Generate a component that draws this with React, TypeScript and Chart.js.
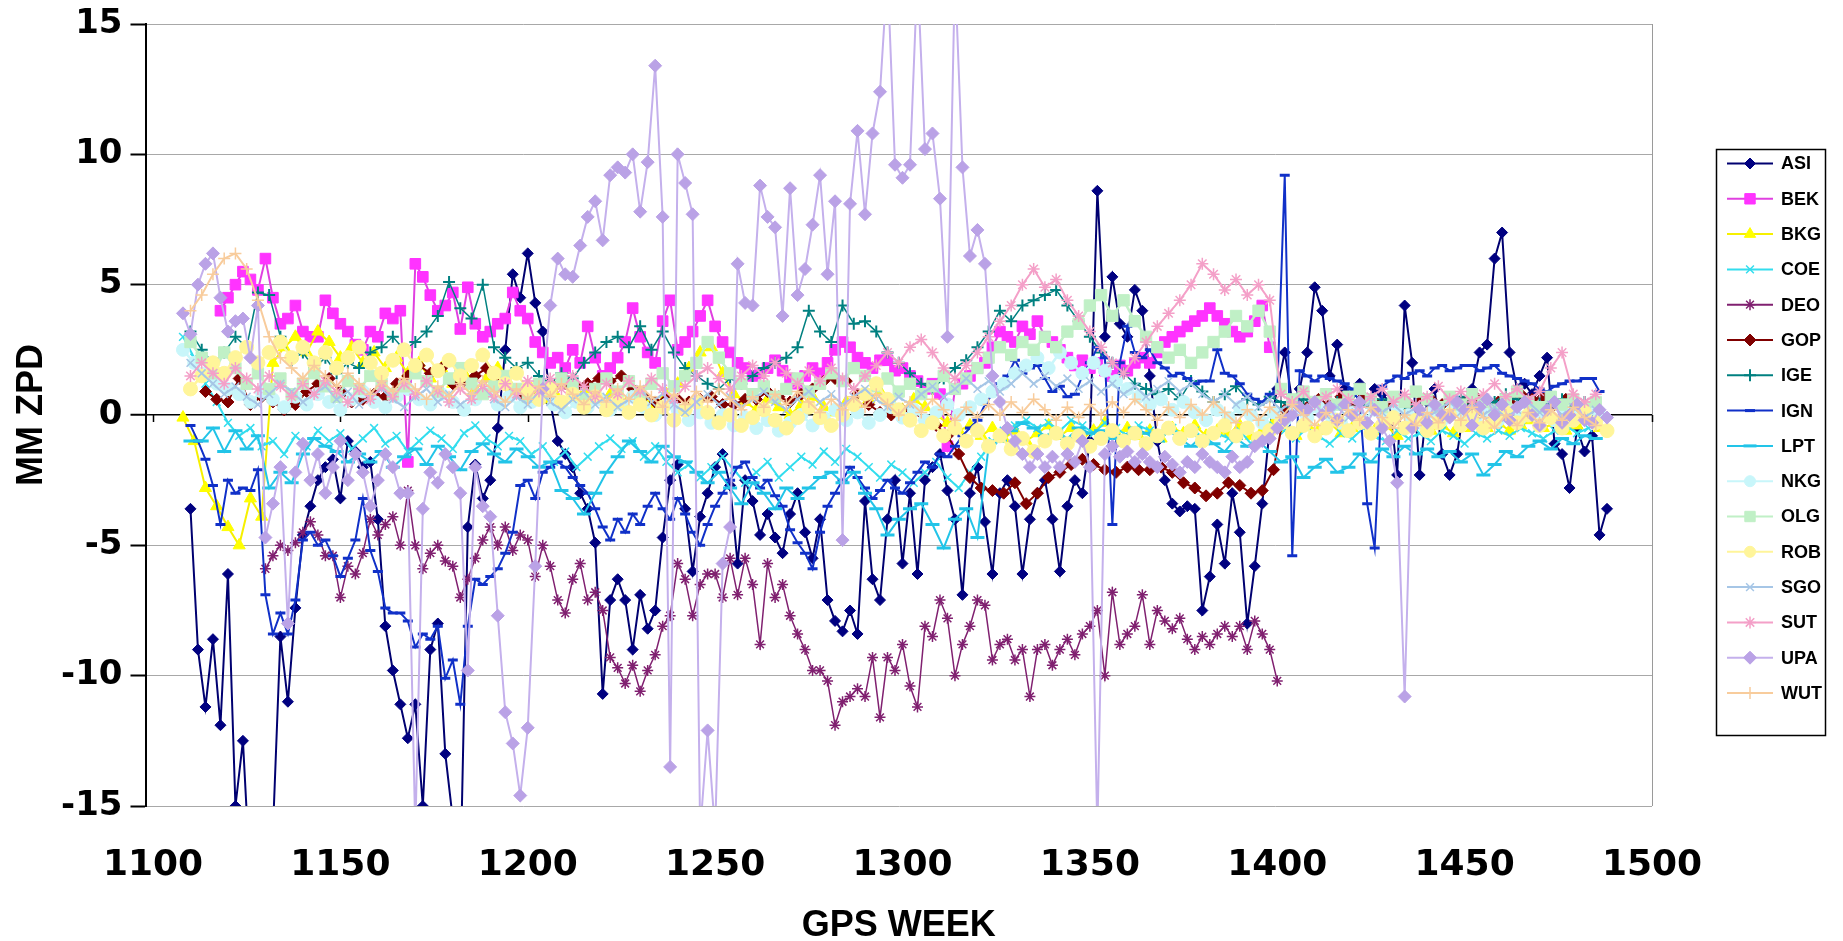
import React, { useEffect, useRef } from 'react';
import { Chart, registerables } from 'chart.js';

Chart.register(...registerables);

const W = 1843;
const H = 941;
const FONT = "'Liberation Sans', Arial, Helvetica, sans-serif";
const TICK_FONT = "'DejaVu Sans', 'Liberation Sans', Arial, sans-serif";

// Axis / tick definitions
const X_MIN = 1098;
const X_MAX = 1500;
const X_TICKS = [1100, 1150, 1200, 1250, 1300, 1350, 1400, 1450, 1500];
const Y_MIN = -15;
const Y_MAX = 15;
const Y_STEP = 5;
const X_TITLE = 'GPS WEEK';
const Y_TITLE = 'MM ZPD';

const SERIES_NAMES = ['ASI', 'BEK', 'BKG', 'COE', 'DEO', 'GOP', 'IGE', 'IGN', 'LPT', 'NKG', 'OLG', 'ROB', 'SGO', 'SUT', 'UPA', 'WUT'];

// ---- Series values (GPS week = start + step * index) ----
const ASI_START = 1110;
const ASI_STEP = 2;
const ASI = [
  -3.6, -9.0, -11.2, -8.6, -11.9, -6.1, -15.0, -12.5, -18, -18,
  -18, -16, -8.5, -11.0, -7.4, -4.6, -3.5, -2.5, -2.0, -1.7,
  -3.2, -1.0, -1.4, -2.0, -1.8, -4.0, -8.1, -9.8, -11.1, -12.4,
  -11.1, -15.0, -9.0, -8.0, -13.0, -15.5, -18, -4.3, -1.9, -3.2,
  -2.5, -0.5, 2.5, 5.4, 4.5, 6.2, 4.3, 3.2, 0.5, -1.0,
  -1.5, -2.0, -3.0, -3.6, -4.9, -10.7, -7.1, -6.3, -7.1, -9.0,
  -6.9, -8.2, -7.5, -4.7, -2.5, -1.9, -3.6, -6.0, -3.9, -3.0,
  -2.0, -1.5, -2.7, -5.7, -2.5, -3.3, -4.6, -3.8, -4.7, -5.3,
  -3.8, -3.0, -4.5, -5.5, -4.0, -7.1, -7.9, -8.3, -7.5, -8.4,
  -3.3, -6.3, -7.1, -4.0, -2.5, -5.7, -3.0, -6.1, -2.5, -2.0,
  -1.5, -2.9, -4.0, -6.9, -3.0, -2.0, -4.1, -6.1, -3.0, -2.5,
  -3.5, -6.1, -4.0, -3.0, -2.5, -4.0, -6.0, -3.5, -2.5, -3.0,
  -1.0, 8.6, 3.0, 5.3, 3.5, 3.0, 4.8, 4.0, 1.5, -1.0,
  -2.5, -3.4, -3.7, -3.5, -3.6, -7.5, -6.2, -4.2, -5.7, -3.0,
  -4.5, -8.0, -5.8, -3.4, -0.5, 1.0, 2.4, 0.5, 1.0, 2.4,
  4.9, 4.0, 1.5, 2.7, 1.0, 0.8, 1.2, 0.5, 1.0, 0.8,
  0.5, -2.3, 4.2, 2.0, -2.3, 0.5, 1.0, -1.5, -2.3, -1.5,
  0.5, 1.0, 2.4, 2.7, 6.0, 7.0, 2.4, 1.0, 1.2, 0.8,
  1.5, 2.2, -1.1, -1.5, -2.8, -0.5, -1.4, -0.8, -4.6, -3.6,
];

const BEK_START = 1118;
const BEK_STEP = 2;
const BEK = [
  4.0, 4.5, 5.0, 5.5, 5.2, 4.8, 6.0, 4.5, 3.5, 3.7,
  4.2, 3.2, 3.0, 3.0, 4.4, 3.9, 3.5, 3.2, 2.7, 2.5,
  3.2, 3.0, 3.9, 3.7, 4.0, -1.8, 5.8, 5.3, 4.6, 4.0,
  4.2, 4.7, 3.3, 4.9, 3.5, 3.0, 3.2, 3.5, 3.7, 4.7,
  4.0, 3.7, 2.8, 2.4, 2.0, 2.2, 1.8, 2.5, 2.0, 3.4,
  2.2, 1.5, 1.8, 2.2, 2.8, 4.1, 3.0, 2.4, 2.0, 3.6,
  4.4, 2.5, 2.8, 3.2, 3.8, 4.4, 3.4, 2.8, 2.4, 2.0,
  1.8, 1.5, 1.6, 1.8, 2.1, 1.7, 1.4, 1.2, 1.5, 1.8,
  1.6, 2.0, 2.5, 2.8, 2.6, 2.2, 2.0, 1.8, 2.1, 2.1,
  1.7, 1.8, 1.5, 1.3, 1.0, 1.2, 0.8, -1.2, 1.0, 1.2,
  1.5, 1.8, 2.0, 2.6, 3.2, 3.0, 2.8, 3.4, 3.1, 3.6,
  3.0, 2.8, 2.5, 2.2, 1.9, 2.1, 1.8, 2.0, 1.7, 1.5,
  1.9, 1.7, 2.0, 2.2, 2.0, 2.4, 2.8, 3.0, 3.2, 3.4,
  3.6, 3.8, 4.1, 3.8, 3.5, 3.2, 3.0, 3.2, 3.6, 4.2,
  2.6,
];

const BKG_START = 1108;
const BKG_STEP = 3;
const BKG = [
  -0.1, -1.0, -2.8, -3.5, -4.3, -5.0, -3.2, -3.9, 2.0, 2.6,
  3.0, 2.4, 3.2, 2.8, 2.2, 2.6, 2.0, 2.4, 1.8, 2.2,
  1.6, 2.0, 1.4, 1.8, 1.2, 1.6, 1.0, 1.4, 1.8, 1.2,
  0.8, 1.0, 0.6, 0.9, 1.2, 0.8, 1.0, 0.6, 0.8, 0.5,
  0.9, 0.6, 0.4, 0.8, 1.2, 1.8, 2.4, 2.6, 1.6, 0.8,
  0.5, 0.2, 0.6, 0.3, 0.0, 0.4, 0.7, 0.3, 0.1, 0.5,
  0.2, 0.6, 0.9, 0.5, 0.2, 0.6, 0.3, 0.0, -0.3, -0.6,
  -0.4, -0.8, -0.5, -0.9, -0.6, -1.0, -0.7, -0.4, -0.8, -0.5,
  -0.9, -0.6, -0.3, -0.7, -0.5, -0.8, -0.6, -0.9, -0.5, -0.7,
  -0.4, -0.8, -0.6, -0.7, -0.4, -0.8, -0.6, -0.3, -0.5, -0.8,
  -0.4, -0.6, -0.3, -0.7, -0.5, -0.2, -0.6, -0.4, -0.8, -0.5,
  -0.3, -0.6, -0.4, -0.7, -0.5, -0.2, -0.5, -0.3, -0.6, -0.4,
  -0.2, -0.5, -0.3, -0.6, -0.4, -0.2, -0.5,
];

const COE_START = 1108;
const COE_STEP = 3;
const COE = [
  3.0, 2.2, 1.2, 0.5, -0.3, -0.8, -0.5, -1.2, -1.0, -1.5,
  -0.8, -1.2, -0.6, -1.0, -0.7, -1.3, -0.9, -0.5, -1.1, -0.8,
  -1.4, -1.0, -0.6, -0.9, -1.3, -0.7, -0.4, -0.9, -1.2, -0.8,
  -1.0, -1.5, -1.2, -1.8, -1.4, -2.0, -1.6, -1.2, -0.9, -1.3,
  -1.0, -1.6, -1.2, -1.8, -2.2, -1.9, -2.4, -2.0, -1.6, -2.1,
  -2.6, -2.2, -1.8, -2.4, -2.0, -1.6, -1.9, -1.4, -1.8, -1.3,
  -1.6, -2.0, -2.4, -1.9, -2.2, -2.6, -2.2, -1.8, -2.4, -2.8,
  -2.2, -1.6, -1.0, -0.6, -0.4, -0.2, -0.5, -0.3, -0.6, -0.2,
  -0.4, -0.7, -0.3, -0.5, -0.8, -0.4, -0.6, -0.9, -0.5, -0.8,
  -0.6, -1.0, -0.7, -0.9, -0.6, -1.1, -0.8, -0.4, -0.6, -0.9,
  -0.5, -0.8, -1.1, -0.7, -0.9, -0.5, -0.8, -1.0, -0.6, -0.9,
  -0.7, -1.0, -0.6, -0.8, -1.1, -0.7, -0.9, -0.6, -0.8, -0.5,
  -0.7, -0.9, -0.6, -0.4, -0.7, -0.5, -0.3,
];

const DEO_START = 1130;
const DEO_STEP = 2;
const DEO = [
  -5.9, -5.4, -5.0, -5.2, -4.9, -4.5, -4.1, -4.6, -5.4, -5.4,
  -7.0, -5.8, -6.1, -5.3, -4.0, -4.6, -4.2, -3.9, -5.0, -2.9,
  -5.0, -5.9, -5.3, -5.0, -5.6, -5.8, -7.0, -6.3, -5.5, -4.8,
  -4.3, -5.0, -4.3, -5.2, -4.6, -4.8, -6.2, -5.0, -5.8, -7.1,
  -7.6, -6.3, -5.7, -7.1, -6.8, -7.5, -9.3, -9.7, -10.3, -9.6,
  -10.6, -9.8, -9.2, -8.1, -7.7, -5.7, -6.3, -7.7, -6.5, -6.1,
  -6.1, -7.0, -5.5, -6.9, -5.5, -6.5, -8.8, -5.7, -7.0, -6.5,
  -7.7, -8.4, -9.0, -9.8, -9.8, -10.2, -11.9, -11.0, -10.8, -10.5,
  -10.8, -9.3, -11.6, -9.3, -9.8, -8.8, -10.4, -11.2, -8.1, -8.5,
  -7.1, -7.8, -10.0, -8.8, -8.1, -7.1, -7.3, -9.4, -8.8, -8.6,
  -9.4, -9.0, -10.8, -9.0, -8.8, -9.6, -9.0, -8.6, -9.2, -8.4,
  -8.1, -7.5, -10.0, -6.8, -8.8, -8.4, -8.1, -6.9, -8.8, -7.5,
  -7.9, -8.2, -7.8, -8.6, -9.0, -8.5, -8.8, -8.4, -8.1, -8.5,
  -8.1, -9.0, -7.9, -8.4, -9.0, -10.2,
];

const GOP_START = 1114;
const GOP_STEP = 3;
const GOP = [
  0.9, 0.6, 0.5, 1.4, 0.4, 0.7, 0.5, 0.2, 0.4, 0.9,
  1.2, 1.4, 0.9, 0.5, 0.6, 0.8, 0.7, 1.2, 1.5, 1.9,
  1.6, 1.8, 1.2, 1.3, 1.5, 1.8, 1.5, 1.0, 0.8, 0.7,
  0.9, 1.1, 1.2, 1.1, 1.2, 1.4, 1.3, 1.5, 1.0, 0.7,
  0.5, 0.6, 0.6, 0.5, 0.6, 0.7, 0.4, 0.4, 0.6, 0.6,
  0.9, 0.7, 0.5, 0.8, 1.0, 1.3, 1.4, 1.3, 0.8, 0.4,
  0.1, 0.0, 0.2, 0.1, -0.2, -0.4, -0.8, -1.5, -2.4, -2.8,
  -2.9, -3.0, -2.6, -3.4, -3.0, -2.4, -2.2, -1.9, -1.7, -1.9,
  -2.1, -2.2, -2.0, -2.1, -2.1, -2.0, -2.2, -2.6, -2.8, -3.1,
  -3.0, -2.6, -2.7, -3.0, -2.9, -2.1, 0.2, 0.5, 0.3, 0.6,
  0.4, 0.7, 0.3, 0.7, 0.5, 0.4, 0.5, 0.4, 0.5, 0.6,
  0.4, 0.6, 0.5, 0.7, 0.5, 0.5, 0.5, 0.8, 0.6, 0.7,
  0.4, 0.6, 0.4,
];

const IGE_START = 1110;
const IGE_STEP = 3;
const IGE = [
  3.2, 2.5, 2.0, 2.4, 3.0, 2.6, 4.7, 4.6, 3.0, 2.1,
  2.4, 1.8, 2.2, 1.6, 2.0, 1.8, 2.4, 2.6, 3.0, 2.5,
  2.8, 3.2, 3.8, 5.1, 4.1, 3.7, 5.0, 2.6, 2.2, 1.8,
  2.0, 1.5, 1.2, 1.6, 1.4, 2.0, 2.4, 2.8, 3.0, 2.6,
  3.4, 2.5, 3.2, 2.4, 1.8, 1.5, 1.2, 1.0, 1.4, 1.2,
  1.5, 1.8, 2.0, 2.2, 2.6, 4.0, 3.2, 2.8, 4.2, 3.5,
  3.6, 3.2, 2.4, 2.0, 1.6, 1.2, 1.0, 1.4, 1.8, 2.1,
  2.6, 3.2, 4.0, 3.6, 4.2, 4.4, 4.6, 4.8, 4.2, 3.6,
  3.0, 2.4, 2.0, 1.6, 1.2, 1.0, 0.8, 1.0, 0.6, 1.3,
  0.9, 0.5, 0.8, 1.1, 0.6, 0.4, 0.7, 0.5, 0.3, 0.6,
  0.4, 0.2, 0.5, 0.7, 0.4, 0.3, 0.6, 0.5, 0.2, 0.4,
  0.6, 0.3, 0.5, 0.7, 0.4, 0.2, 0.5, 0.8, 0.6, 0.3,
  0.5, 0.4, 0.6, 0.3, 0.5, 0.2,
];

const IGN_START = 1110;
const IGN_STEP = 2;
const IGN = [
  -0.4, -1.0, -1.7, -2.7, -4.2, -2.5, -3.0, -2.8, -2.9, -2.1,
  -6.9, -8.4, -7.6, -8.4, -7.1, -4.8, -4.5, -5.0, -4.8, -5.4,
  -6.2, -5.5, -4.8, -3.2, -5.2, -6.0, -7.4, -7.6, -7.6, -7.9,
  -8.9, -8.4, -8.6, -8.1, -10.1, -9.4, -11.1, -8.1, -6.3, -6.5,
  -6.2, -5.9, -5.3, -4.5, -2.7, -2.5, -3.2, -2.2, -2.0, -1.8,
  -2.0, -2.4, -2.7, -3.0, -3.6, -4.3, -4.8, -4.0, -4.5, -3.8,
  -4.2, -3.5, -3.0, -3.6, -4.0, -3.2, -3.8, -4.5, -5.0, -4.2,
  -3.5, -3.0, -2.5, -2.0, -1.8, -2.4, -2.8, -2.5, -3.1, -3.5,
  -4.4, -4.9, -5.3, -5.9, -4.5, -3.5, -3.0, -2.5, -2.0, -2.4,
  -2.8, -3.2, -2.9, -2.5, -2.8, -3.0, -2.6, -2.2, -1.8, -2.0,
  -1.5, -1.6, -1.2, -0.8, -0.5, -0.2, 0.4, 0.8, 1.2, 1.5,
  2.1, 1.6, 1.8, 1.9, 1.4, 0.9, 1.1, 0.7, 0.8, 1.5,
  2.0, 2.6, 2.2, -4.2, 2.0, 3.4, 2.4, 2.2, 2.5, 2.0,
  1.8, 1.5, 1.6, 1.4, 1.2, 1.3, 1.3, 2.5, 1.6, 1.5,
  1.2, 0.8, 0.6, 0.5, 0.8, 0.9, 9.2, -5.4, 1.7, 1.5,
  1.3, 1.5, 1.4, 1.3, 1.2, 1.0, 0.5, -3.4, -5.1, 1.1,
  1.3, 1.5, 1.4, 1.6, 1.7, 1.5, 1.8, 1.9, 1.7, 1.8,
  1.9, 1.9, 1.7, 1.8, 1.9, 1.6, 1.5, 1.4, 1.3, 1.2,
  1.0, 0.9, 1.1, 1.2, 1.3, 1.3, 1.4, 1.4, 0.9,
];

const LPT_START = 1110;
const LPT_STEP = 3;
const LPT = [
  -1.0, -1.0, -0.5, -1.4, -0.6, -1.3, -0.8, -2.8, -2.2, -2.6,
  -1.5, -0.9, -1.2, -1.4, -1.8, -1.5, -1.8, -1.4, -2.0, -1.6,
  -1.3, -1.9, -1.2, -1.6, -2.1, -1.4, -1.1, -1.5, -1.8, -1.3,
  -1.6, -2.0, -1.8, -2.9, -3.2, -3.8, -3.0, -2.2, -1.6, -1.0,
  -1.4, -1.8, -1.2, -1.6, -1.8, -2.2, -2.6, -2.2, -2.8, -3.4,
  -2.6, -3.0, -3.6, -2.8, -3.2, -2.8, -2.4, -2.2, -2.6, -2.2,
  -3.0, -3.6, -4.6, -4.0, -3.6, -3.4, -4.2, -5.1, -4.0, -3.6,
  -4.7, -1.2, -1.0, -0.6, -0.3, -0.5, -0.8, -0.6, -0.9, -0.5,
  -0.7, -0.6, -0.9, -0.8, -0.5, -0.7, -1.0, -0.6, -0.9, -1.2,
  -0.8, -1.1, -1.4, -0.9, -1.2, -1.0, -1.4, -1.8, -1.6, -2.4,
  -2.0, -1.7, -2.2, -2.0, -1.5, -1.8, -1.3, -1.6, -1.2, -1.5,
  -1.3, -1.6, -1.4, -1.8, -1.5, -2.3, -1.9, -1.4, -1.6, -1.2,
  -1.0, -1.3, -0.9, -1.1, -0.8, -0.9,
];

const NKG_START = 1108;
const NKG_STEP = 3;
const NKG = [
  2.5, 2.0, 1.6, 1.2, 1.0, 0.8, 0.5, 0.9, 0.6, 0.3,
  0.7, 0.4, 0.8, 0.5, 0.2, 0.6, 0.9, 0.5, 0.3, 0.7,
  1.0, 0.6, 0.4, 0.8, 0.5, 0.2, 0.6, 0.9, 0.4, 0.7,
  0.3, 0.5, 0.8, 0.4, 0.1, 0.5, 0.3, 0.6, 0.2, 0.4,
  0.7, 0.3, 0.0, 0.4, 0.2, -0.2, 0.1, -0.3, 0.0, -0.4,
  -0.1, -0.5, -0.2, -0.6, -0.3, 0.0, -0.4, -0.1, 0.2, -0.2,
  0.1, -0.3, 0.0, 0.3, -0.1, 0.2, -0.2, 0.1, 0.4, 0.0,
  0.3, 0.6, 0.9, 1.2, 1.6, 1.9, 2.2, 1.8, 2.4, 2.0,
  1.6, 2.0, 1.7, 1.3, 1.0, 0.7, 0.4, 0.6, 0.2, 0.5,
  0.1, -0.2, 0.2, -0.1, 0.3, 0.0, -0.3, 0.1, -0.2, 0.2,
  -0.1, 0.3, 0.0, -0.3, 0.1, -0.2, 0.2, -0.1, 0.3, 0.0,
  -0.3, 0.1, -0.2, 0.2, 0.0, -0.3, 0.1, -0.2, 0.2, -0.1,
  0.3, 0.0, -0.2, 0.1, -0.1, 0.2, 0.0,
];

const OLG_START = 1110;
const OLG_STEP = 3;
const OLG = [
  2.8, 2.2, 1.6, 2.4, 1.8, 1.2, 1.6, 1.0, 1.4, 0.8,
  1.2, 1.6, 1.1, 0.7, 1.3, 1.0, 1.5, 1.2, 0.8, 1.1,
  1.6, 1.3, 0.9, 1.4, 1.8, 1.2, 0.8, 1.1, 1.5, 1.0,
  0.7, 1.2, 0.9, 1.4, 1.1, 0.6, 1.0, 1.4, 0.9, 1.3,
  0.8, 1.2, 1.6, 1.1, 1.5, 2.0, 2.8, 2.2, 1.6, 1.2,
  0.8, 1.1, 0.7, 1.0, 1.4, 0.9, 1.2, 1.6, 1.3, 1.8,
  1.5, 1.1, 1.4, 0.9, 1.2, 0.8, 1.1, 1.5, 1.0, 1.4,
  1.8, 2.2, 2.6, 2.3, 2.8, 2.5, 3.0, 2.6, 3.2, 3.5,
  4.2, 4.6, 3.8, 4.4, 3.6, 3.0, 2.6, 2.2, 2.5, 2.0,
  2.4, 2.8, 3.2, 3.8, 3.4, 4.0, 3.2, 1.0, 0.6, 0.9,
  0.5, 0.8, 0.4, 0.7, 1.0, 0.6, 0.3, 0.7, 0.5, 0.9,
  0.6, 0.3, 0.7, 0.4, 0.8, 0.5, 0.2, 0.6, 0.9, 0.5,
  0.3, 0.7, 0.4, 0.6, 0.3, 0.5,
];

const ROB_START = 1110;
const ROB_STEP = 3;
const ROB = [
  1.0, 1.5, 2.0, 1.6, 2.2, 2.6, 2.0, 2.4, 2.8, 2.2,
  2.6, 2.0, 2.4, 1.8, 2.2, 2.6, 2.0, 1.6, 2.1, 2.5,
  1.9, 2.3, 1.7, 2.1, 1.5, 1.9, 2.3, 1.6, 1.2, 1.6,
  1.0, 0.6, 1.0, 0.5, 0.8, 0.3, 0.7, 0.2, 0.5, 0.1,
  0.4, 0.0, 0.3, -0.2, 0.2, 0.5, 0.1, -0.3, 0.0, -0.4,
  -0.1, 0.2, -0.2, -0.5, -0.1, 0.3, -0.1, -0.4, 0.0, 0.4,
  0.8, 1.2, 0.6, 0.2, -0.2, -0.6, -0.3, -0.8, -0.5, -1.0,
  -0.6, -1.2, -0.8, -1.3, -0.9, -1.4, -1.0, -0.7, -1.1, -0.8,
  -1.2, -0.9, -0.6, -1.0, -0.7, -1.1, -0.8, -0.5, -0.9, -0.6,
  -1.0, -0.7, -0.4, -0.8, -0.5, -0.9, -0.6, -0.3, -0.7, -0.4,
  -0.8, -0.5, -0.2, -0.6, -0.3, -0.7, -0.4, -0.1, -0.5, -0.2,
  -0.6, -0.3, 0.0, -0.4, -0.1, -0.5, -0.2, 0.1, -0.3, 0.0,
  -0.4, -0.1, -0.5, -0.2, 0.1, -0.3, -0.6,
];

const SGO_START = 1110;
const SGO_STEP = 3;
const SGO = [
  2.0, 1.6, 1.2, 0.8, 1.1, 0.7, 0.4, 0.8, 1.2, 0.9,
  0.5, 0.8, 1.1, 0.6, 0.9, 0.4, 0.7, 1.0, 0.6, 0.3,
  0.7, 1.0, 0.5, 0.8, 0.4, 0.7, 1.1, 0.6, 0.3, 0.7,
  0.4, 0.9, 0.5, 0.2, 0.6, 0.9, 0.4, 0.7, 0.3, 0.6,
  1.0, 0.5, 0.8, 0.4, 0.1, 0.5, 0.8, 0.4, 0.7, 0.3,
  0.6, 0.9, 0.5, 0.2, 0.6, 0.9, 0.5, 0.8, 0.4, 0.7,
  1.0, 0.6, 0.3, 0.7, 0.4, 0.8, 1.1, 0.7, 1.0, 1.4,
  1.0, 1.3, 0.9, 1.2, 1.6, 1.2, 1.5, 1.1, 1.4, 1.0,
  1.3, 0.9, 1.2, 0.8, 1.1, 0.7, 1.0, 1.3, 0.9, 1.2,
  0.8, 0.5, 0.8, 0.4, 0.7, 0.3, 0.6, 0.2, 0.5, 0.1,
  0.4, 0.0, 0.3, -0.1, 0.2, 0.5, 0.1, 0.4, 0.0, 0.3,
  -0.1, 0.2, 0.5, 0.1, 0.4, 0.0, 0.3, -0.1, 0.2, 0.5,
  0.1, 0.4, 0.0, 0.3, -0.1, 0.2,
];

const SUT_START = 1110;
const SUT_STEP = 3;
const SUT = [
  1.5, 2.0, 1.6, 1.2, 1.8, 1.4, 1.0, 1.5, 1.1, 0.7,
  1.2, 0.8, 1.3, 0.9, 0.5, 1.0, 0.6, 1.1, 0.7, 1.2,
  0.8, 1.3, 0.9, 0.5, 1.0, 0.6, 1.1, 0.7, 1.2, 0.8,
  1.3, 0.9, 1.4, 1.0, 1.5, 1.1, 0.7, 1.2, 0.8, 1.3,
  0.9, 1.4, 1.0, 0.6, 1.1, 1.5, 1.8, 1.4, 1.0, 1.5,
  1.9, 1.5, 2.0, 1.6, 1.2, 1.7, 1.3, 1.8, 1.4, 1.0,
  1.5, 1.9, 2.4, 2.0, 2.6, 2.9, 2.4, 1.8, 1.4, 1.9,
  2.4, 3.0, 3.6, 4.2, 5.0, 5.6, 4.9, 5.2, 4.4, 3.8,
  3.2, 2.6, 2.0, 1.6, 2.2, 2.8, 3.4, 3.9, 4.4, 5.0,
  5.8, 5.4, 4.8, 5.2, 4.6, 5.0, 4.4, 0.8, 0.5, 0.9,
  0.4, 0.7, 1.0, 0.6, 0.3, 0.7, 1.0, 0.5, 0.8, 0.4,
  0.7, 1.1, 0.6, 0.9, 0.5, 0.8, 1.2, 0.7, 1.0, 0.6,
  0.9, 1.8, 2.4, 0.8, 0.5, 0.8,
];

const UPA_START = 1108;
const UPA_STEP = 2;
const UPA = [
  3.9, 3.1, 5.0, 5.8, 6.2, 4.5, 3.2, 3.6, 3.7, 2.2,
  4.2, -4.7, -3.4, -2.0, -8.0, -2.2, -1.1, -2.5, -1.5, -3.0,
  -2.0, -1.0, -2.5, -1.5, -2.2, -3.5, -2.5, -1.5, -2.0, -3.0,
  -3.0, -16, -3.6, -2.2, -2.6, -1.5, -2.0, -3.0, -9.8, -2.0,
  -3.5, -3.9, -7.7, -11.4, -12.6, -14.6, -12.0, -5.8, 1.0, 4.2,
  6.0, 5.4, 5.3, 6.5, 7.6, 8.2, 6.7, 9.2, 9.5, 9.3,
  10.0, 7.8, 9.7, 13.4, 7.6, -13.5, 10.0, 8.9, 7.7, -16,
  -12.1, -16, -5.7, -4.3, 5.8, 4.3, 4.2, 8.8, 7.6, 7.2,
  3.8, 8.7, 4.6, 5.6, 7.3, 9.2, 5.4, 8.2, -4.8, 8.1,
  10.9, 7.7, 10.8, 12.4, 17, 9.6, 9.1, 9.6, 17, 10.2,
  10.8, 8.3, 3.0, 17, 9.5, 6.1, 7.1, 5.8, 1.5, 0.5,
  -0.5, -1.0, -1.5, -2.0, -1.5, -2.0, -1.6, -2.0, -1.5, -1.8,
  -1.0, -2.0, -16, -1.5, -1.2, -1.6, -1.4, -1.8, -1.5, -1.8,
  -2.0, -1.6, -1.9, -2.2, -1.8, -2.0, -1.5, -1.8, -2.0, -2.2,
  -1.6, -2.0, -1.8, -1.2, -1.0, -0.9, -0.5, -0.2, 0.0, 0.3,
  0.2, 0.5, 0.0, 0.3, -0.2, 0.4, 0.0, 0.5, -0.3, 0.2,
  -0.5, -1.0, -2.6, -10.8, -0.5, 0.2, -0.3, 0.4, 0.0, -0.1,
  0.5, 0.2, -0.4, 0.3, 0.6, 0.0, 0.4, -0.2, 0.3, 0.5,
  0.0, -0.4, 0.2, 0.5, -0.3, 0.0, 0.4, -0.2, -0.3, 0.2,
  -0.1,
];

const WUT_START = 1110;
const WUT_STEP = 3;
const WUT = [
  4.0, 4.6, 5.4, 6.0, 6.2, 5.6, 4.4, 3.0, 2.2, 1.8,
  1.4, 1.9, 1.5, 1.1, 1.6, 1.2, 0.8, 1.3, 0.9, 1.4,
  1.0, 0.6, 1.1, 0.7, 1.2, 0.8, 1.3, 0.9, 0.5, 1.0,
  0.6, 1.1, 0.7, 1.2, 0.8, 0.4, 0.9, 0.5, 1.0, 0.6,
  1.1, 0.7, 0.3, 0.8, 0.4, 0.9, 0.5, 1.0, 0.6, 0.2,
  0.7, 0.3, 0.8, 0.4, 0.9, 0.5, 0.1, 0.6, 0.2, 0.7,
  0.3, 0.8, 0.4, 0.0, 0.5, 0.1, 0.6, 0.2, -0.2, 0.3,
  -0.1, 0.4, 0.0, 0.5, 0.1, 0.6, 0.2, -0.2, 0.3, -0.1,
  0.4, 0.0, 0.5, 0.1, 0.6, 0.2, -0.2, 0.3, -0.1, 0.4,
  0.0, 0.5, 0.1, -0.3, 0.2, -0.2, 0.3, -0.1, 0.4, 0.0,
  -0.4, 0.1, -0.3, 0.2, -0.2, 0.3, -0.1, -0.5, 0.0, -0.4,
  0.1, -0.3, 0.2, -0.2, 0.3, -0.1, -0.5, 0.0, -0.4, 0.1,
  -0.3, 0.2, -0.2, 0.3, -0.1, -0.4,
];

// ---- Styling (kept apart from data) ----
type Shape = 'rectRot' | 'rect' | 'triangle' | 'crossRot' | 'star' | 'cross' | 'line' | 'circle';
interface Style { line: string; marker: string; shape: Shape; r: number; lw: number; pbw: number; }
const STYLES: Record<string, Style> = {
  ASI: { line: '#000070', marker: '#000080', shape: 'rectRot', r: 5.5, lw: 2, pbw: 1 },
  BEK: { line: '#E040E0', marker: '#FF33FF', shape: 'rect', r: 7.5, lw: 2, pbw: 1 },
  BKG: { line: '#F6F000', marker: '#FFFF00', shape: 'triangle', r: 7, lw: 2, pbw: 1 },
  COE: { line: '#33DDEE', marker: '#33DDEE', shape: 'crossRot', r: 5.5, lw: 2, pbw: 1.5 },
  DEO: { line: '#802070', marker: '#802070', shape: 'star', r: 5.5, lw: 1.5, pbw: 1.5 },
  GOP: { line: '#800000', marker: '#800000', shape: 'rectRot', r: 6, lw: 2, pbw: 1 },
  IGE: { line: '#008080', marker: '#008080', shape: 'cross', r: 6, lw: 1.5, pbw: 2 },
  IGN: { line: '#1030C8', marker: '#1030C8', shape: 'line', r: 5, lw: 2, pbw: 3 },
  LPT: { line: '#22C4E8', marker: '#22C4E8', shape: 'line', r: 7, lw: 2, pbw: 3 },
  NKG: { line: '#C8F6FA', marker: '#C8F6FA', shape: 'circle', r: 6.5, lw: 2.5, pbw: 1 },
  OLG: { line: '#C0F0C6', marker: '#C0F0C6', shape: 'rect', r: 8, lw: 2.5, pbw: 1 },
  ROB: { line: '#FFF59A', marker: '#FFF59A', shape: 'circle', r: 7, lw: 2.5, pbw: 1 },
  SGO: { line: '#A6C6E6', marker: '#A6C6E6', shape: 'crossRot', r: 5.5, lw: 2, pbw: 1.5 },
  SUT: { line: '#F4A0C8', marker: '#F4A0C8', shape: 'star', r: 6, lw: 2, pbw: 1.5 },
  UPA: { line: '#C4B0EC', marker: '#BAA2E6', shape: 'rectRot', r: 6.5, lw: 2, pbw: 1 },
  WUT: { line: '#F8CC9C', marker: '#F8CC9C', shape: 'cross', r: 6, lw: 2, pbw: 1.5 },
};

const SERIES = [
  { name: SERIES_NAMES[0], start: ASI_START, step: ASI_STEP, values: ASI },
  { name: SERIES_NAMES[1], start: BEK_START, step: BEK_STEP, values: BEK },
  { name: SERIES_NAMES[2], start: BKG_START, step: BKG_STEP, values: BKG },
  { name: SERIES_NAMES[3], start: COE_START, step: COE_STEP, values: COE },
  { name: SERIES_NAMES[4], start: DEO_START, step: DEO_STEP, values: DEO },
  { name: SERIES_NAMES[5], start: GOP_START, step: GOP_STEP, values: GOP },
  { name: SERIES_NAMES[6], start: IGE_START, step: IGE_STEP, values: IGE },
  { name: SERIES_NAMES[7], start: IGN_START, step: IGN_STEP, values: IGN },
  { name: SERIES_NAMES[8], start: LPT_START, step: LPT_STEP, values: LPT },
  { name: SERIES_NAMES[9], start: NKG_START, step: NKG_STEP, values: NKG },
  { name: SERIES_NAMES[10], start: OLG_START, step: OLG_STEP, values: OLG },
  { name: SERIES_NAMES[11], start: ROB_START, step: ROB_STEP, values: ROB },
  { name: SERIES_NAMES[12], start: SGO_START, step: SGO_STEP, values: SGO },
  { name: SERIES_NAMES[13], start: SUT_START, step: SUT_STEP, values: SUT },
  { name: SERIES_NAMES[14], start: UPA_START, step: UPA_STEP, values: UPA },
  { name: SERIES_NAMES[15], start: WUT_START, step: WUT_STEP, values: WUT },
];

// Layout
const PLOT_LEFT = 145.5;
const PLOT_RIGHT = 1652;
const PLOT_TOP = 24;
const PLOT_BOTTOM = 806;
const LEGEND_BOX = { left: 1716, top: 149, right: 1825, bottom: 735 };
const LEGEND_ROW0 = 163.5;
const LEGEND_ROW_H = 35.3;
const LEGEND_LINE_X1 = 1727;
const LEGEND_LINE_X2 = 1773;
const LEGEND_TEXT_X = 1781;

function drawMarker(ctx: CanvasRenderingContext2D, st: Style, x: number, y: number) {
  const r = Math.min(st.r, 6.5);
  ctx.save();
  ctx.fillStyle = st.marker;
  ctx.strokeStyle = st.marker;
  ctx.lineWidth = st.pbw;
  ctx.beginPath();
  switch (st.shape) {
    case 'rectRot':
      ctx.moveTo(x, y - r); ctx.lineTo(x + r, y); ctx.lineTo(x, y + r); ctx.lineTo(x - r, y); ctx.closePath();
      ctx.fill(); ctx.stroke(); break;
    case 'rect': {
      const s = r * 0.8;
      ctx.rect(x - s, y - s, 2 * s, 2 * s); ctx.fill(); ctx.stroke(); break;
    }
    case 'triangle':
      ctx.moveTo(x, y - r); ctx.lineTo(x + r * 0.866, y + r * 0.5); ctx.lineTo(x - r * 0.866, y + r * 0.5); ctx.closePath();
      ctx.fill(); ctx.stroke(); break;
    case 'circle':
      ctx.arc(x, y, r * 0.85, 0, Math.PI * 2); ctx.fill(); ctx.stroke(); break;
    case 'cross':
      ctx.moveTo(x - r, y); ctx.lineTo(x + r, y); ctx.moveTo(x, y - r); ctx.lineTo(x, y + r); ctx.stroke(); break;
    case 'crossRot': {
      const d = r * Math.SQRT1_2;
      ctx.moveTo(x - d, y - d); ctx.lineTo(x + d, y + d); ctx.moveTo(x - d, y + d); ctx.lineTo(x + d, y - d); ctx.stroke(); break;
    }
    case 'star': {
      const d = r * Math.SQRT1_2;
      ctx.moveTo(x - r, y); ctx.lineTo(x + r, y); ctx.moveTo(x, y - r); ctx.lineTo(x, y + r);
      ctx.moveTo(x - d, y - d); ctx.lineTo(x + d, y + d); ctx.moveTo(x - d, y + d); ctx.lineTo(x + d, y - d); ctx.stroke(); break;
    }
    case 'line':
      ctx.moveTo(x - r, y); ctx.lineTo(x + r, y); ctx.stroke(); break;
  }
  ctx.restore();
}

const framePlugin = {
  id: 'frame',
  beforeDatasetsDraw(chart: any) {
    const { ctx, chartArea: a, scales } = chart;
    ctx.save();
    ctx.strokeStyle = '#9a9a9a';
    ctx.lineWidth = 1;
    ctx.beginPath();
    ctx.moveTo(a.right + 0.5, a.top);
    ctx.lineTo(a.right + 0.5, a.bottom);
    ctx.stroke();
    const y0 = scales.y.getPixelForValue(0);
    ctx.strokeStyle = '#000';
    ctx.lineWidth = 1.5;
    ctx.beginPath();
    X_TICKS.forEach((v) => {
      const px = Math.round(scales.x.getPixelForValue(v)) + 0.5;
      ctx.moveTo(px, y0);
      ctx.lineTo(px, y0 + 7);
    });
    ctx.stroke();
    ctx.restore();
  },
};

const legendPlugin = {
  id: 'customLegend',
  afterDraw(chart: any) {
    const ctx: CanvasRenderingContext2D = chart.ctx;
    ctx.save();
    ctx.strokeStyle = '#000';
    ctx.lineWidth = 1.5;
    ctx.strokeRect(LEGEND_BOX.left + 0.5, LEGEND_BOX.top + 0.5, LEGEND_BOX.right - LEGEND_BOX.left, LEGEND_BOX.bottom - LEGEND_BOX.top);
    ctx.font = `bold 18px ${FONT}`;
    ctx.textBaseline = 'middle';
    ctx.textAlign = 'left';
    SERIES.forEach((s, i) => {
      const st = STYLES[s.name];
      const y = LEGEND_ROW0 + i * LEGEND_ROW_H;
      ctx.strokeStyle = st.line;
      ctx.lineWidth = 2;
      ctx.beginPath();
      ctx.moveTo(LEGEND_LINE_X1, y);
      ctx.lineTo(LEGEND_LINE_X2, y);
      ctx.stroke();
      drawMarker(ctx, st, (LEGEND_LINE_X1 + LEGEND_LINE_X2) / 2, y);
      ctx.fillStyle = '#000';
      ctx.fillText(s.name, LEGEND_TEXT_X, y + 1);
    });
    ctx.restore();
  },
};

export default function App() {
  const ref = useRef<HTMLCanvasElement | null>(null);

  useEffect(() => {
    document.body.style.margin = '0';
    document.body.style.background = '#ffffff';
    const canvas = ref.current;
    if (!canvas) return;

    const datasets = SERIES.map((s, i) => {
      const st = STYLES[s.name];
      return {
        label: s.name,
        data: s.values.map((v, k) => ({ x: s.start + s.step * k, y: v })),
        borderColor: st.line,
        backgroundColor: st.marker,
        borderWidth: st.lw,
        pointStyle: st.shape,
        pointRadius: st.r,
        pointBackgroundColor: st.marker,
        pointBorderColor: st.marker,
        pointBorderWidth: st.pbw,
        tension: 0,
        fill: false,
        order: -i,
      };
    });

    const xTickFont = { family: TICK_FONT, size: 36, weight: 'bold' as const };
    const yTickFont = { family: TICK_FONT, size: 34, weight: 'bold' as const };
    const titleFont = { family: FONT, size: 36, weight: 'bold' as const, lineHeight: 0.85 };

    const chart = new Chart(canvas, {
      type: 'line',
      data: { datasets },
      plugins: [framePlugin, legendPlugin],
      options: {
        responsive: false,
        animation: false,
        events: [],
        layout: { padding: { left: 0, top: PLOT_TOP, right: W - PLOT_RIGHT, bottom: 0 } },
        plugins: {
          legend: { display: false },
          tooltip: { enabled: false },
        },
        scales: {
          x: {
            type: 'linear',
            min: X_MIN,
            max: X_MAX,
            position: 'bottom',
            afterBuildTicks: (s: any) => { s.ticks = X_TICKS.map((v) => ({ value: v })); },
            ticks: { padding: 38, color: '#000', font: xTickFont, maxRotation: 0, autoSkip: false, callback: (v: any) => String(v) },
            grid: { display: false, drawTicks: false },
            border: { display: false },
            title: { display: true, text: X_TITLE, color: '#000', font: titleFont, padding: { top: 0, bottom: 0 } },
            afterFit: (s: any) => { s.height = H - PLOT_BOTTOM; s.paddingLeft = 0; s.paddingRight = 0; },
          },
          y: {
            type: 'linear',
            min: Y_MIN,
            max: Y_MAX,
            ticks: {
              stepSize: Y_STEP,
              padding: 8,
              color: '#000',
              font: yTickFont,
              callback: (v: any) => (Number(v) < 0 ? '-' + Math.abs(Number(v)) : String(v)),
            },
            grid: {
              color: (c: any) => (c.tick && c.tick.value === 0 ? '#000000' : '#a8a8a8'),
              lineWidth: (c: any) => (c.tick && c.tick.value === 0 ? 1.5 : 1),
              tickColor: '#000',
              tickLength: 15,
              tickWidth: 2,
            },
            border: { display: true, color: '#000', width: 2 },
            title: { display: true, text: Y_TITLE, color: '#000', font: { ...titleFont, lineHeight: 1 }, padding: { top: 14, bottom: 0 } },
            afterFit: (s: any) => { s.width = PLOT_LEFT; s.paddingTop = 0; s.paddingBottom = 0; },
          },
        },
      } as any,
    });

    return () => chart.destroy();
  }, []);

  return (
    <div style={{ width: W, height: H, background: '#fff' }}>
      <canvas ref={ref} width={W} height={H} style={{ display: 'block' }} />
    </div>
  );
}
